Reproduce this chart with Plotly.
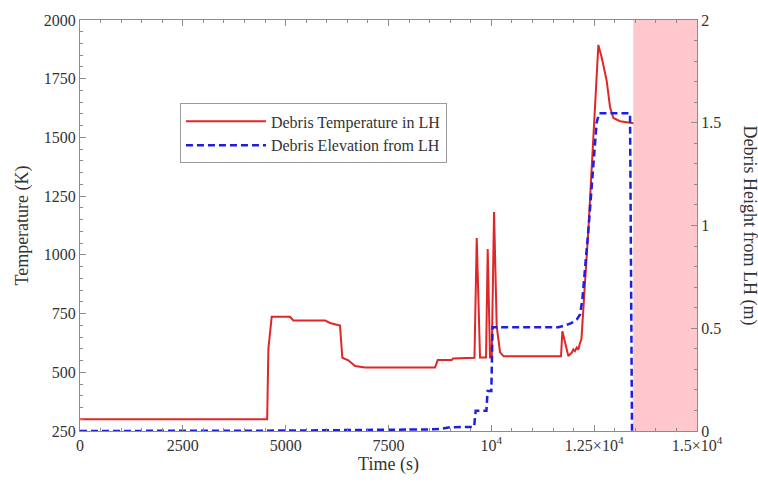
import plotly.graph_objects as go

# Debris temperature in the lower head (K)
temp_time = [0, 4550, 4580, 4660, 5106, 5187, 5957, 6078, 6321, 6378, 6524, 6686,
             6929, 8631, 8697, 9037, 9069, 9590, 9645, 9725, 9871, 9912, 9968,
             10009, 10066, 10131, 10212, 10300, 11694, 11727, 11872, 11953,
             11994, 12034, 12075, 12116, 12157, 12190, 12360, 12602, 12683,
             12805, 12886, 12967, 13129, 13453]
temp_K = [300, 300, 600, 736, 736, 721, 721, 710, 699, 562, 551, 527,
          520, 520, 552, 552, 559, 562, 1072, 563, 563, 1025, 563,
          563, 1182, 695, 585, 568, 568, 675, 569, 583,
          597, 590, 605, 597, 626, 640, 1110, 1894, 1840,
          1741, 1628, 1583, 1569, 1560]

# Debris elevation above the lower head (m)
elev_time = [0, 5000, 8583, 8753, 8996, 9239, 9580, 9620, 9880, 9910, 10000,
             10030, 11630, 11792, 11953, 12075, 12157, 12213, 12360, 12560,
             12620, 13372, 13400, 13420]
elev_m = [0.0, 0.002, 0.008, 0.01, 0.018, 0.02, 0.02, 0.098, 0.098, 0.195, 0.195,
          0.505, 0.505, 0.513, 0.526, 0.542, 0.567, 0.64, 0.98, 1.5,
          1.546, 1.546, 0.8, 0.0]

# Time window shaded after the debris relocation
shade_start, shade_end = 13450, 15000

x_tickvals = [0, 2500, 5000, 7500, 10000, 12500, 15000]
x_ticktext = ["0", "2500", "5000", "7500", "10<sup>4</sup>",
              "1.25×10<sup>4</sup>", "1.5×10<sup>4</sup>"]
y_tickvals = [250, 500, 750, 1000, 1250, 1500, 1750, 2000]
y2_tickvals = [0, 0.5, 1, 1.5, 2]
y2_ticktext = ["0", "0.5", "1", "1.5", "2"]

FONT = "Liberation Serif"
AXIS_GRAY = "#8c8c8c"
TEXT = "#333333"

fig = go.Figure()
fig.add_trace(go.Scatter(
    x=temp_time, y=temp_K, mode="lines", name="Debris Temperature in LH",
    line=dict(color="#e02626", width=2), yaxis="y"))
fig.add_trace(go.Scatter(
    x=elev_time, y=elev_m, mode="lines", name="Debris Elevation from LH",
    line=dict(color="#1f1fe0", width=2.5, dash="7px,4px"), yaxis="y2"))

fig.add_shape(type="rect", xref="x", yref="paper", x0=shade_start, x1=shade_end,
              y0=0, y1=1, fillcolor="rgb(255,200,205)", line=dict(width=0),
              layer="below")

axis_common = dict(
    showgrid=False, zeroline=False, showline=True, linecolor=AXIS_GRAY,
    linewidth=1, ticks="inside", ticklen=6, tickcolor=AXIS_GRAY,
    tickfont=dict(family=FONT, size=16, color=TEXT),
)

fig.update_layout(
    width=758, height=483,
    margin=dict(l=80, r=61, t=19, b=51),
    paper_bgcolor="white", plot_bgcolor="white",
    font=dict(family=FONT, color=TEXT),
    xaxis=dict(
        range=[0, 15000], tickvals=x_tickvals, ticktext=x_ticktext,
        mirror="ticks",
        minor=dict(dtick=500, ticks="inside", ticklen=3, tickcolor=AXIS_GRAY),
        title=dict(text="Time (s)", font=dict(family=FONT, size=18, color=TEXT),
                   standoff=4),
        **axis_common),
    yaxis=dict(
        range=[250, 2000], tickvals=y_tickvals,
        minor=dict(dtick=50, ticks="inside", ticklen=3, tickcolor=AXIS_GRAY),
        title=dict(text="Temperature (K)", font=dict(family=FONT, size=18, color=TEXT),
                   standoff=10),
        **axis_common),
    yaxis2=dict(
        range=[0, 2], overlaying="y", side="right",
        tickvals=y2_tickvals, ticktext=y2_ticktext,
        minor=dict(dtick=0.1, ticks="inside", ticklen=3, tickcolor=AXIS_GRAY),
        **axis_common),
    legend=dict(
        x=0.162, y=0.797, xanchor="left", yanchor="top",
        bgcolor="white", bordercolor="#9a9a9a", borderwidth=1,
        font=dict(family=FONT, size=16, color=TEXT),
        tracegroupgap=0, itemwidth=80,
    ),
    showlegend=True,
)

# Right-hand axis title, reading top to bottom
fig.add_annotation(
    text="Debris Height from LH (m)", xref="paper", yref="paper",
    x=1.0, y=0.5, xshift=52, xanchor="center", yanchor="middle",
    textangle=90, showarrow=False,
    font=dict(family=FONT, size=18, color=TEXT))

fig.write_html("out.html")
